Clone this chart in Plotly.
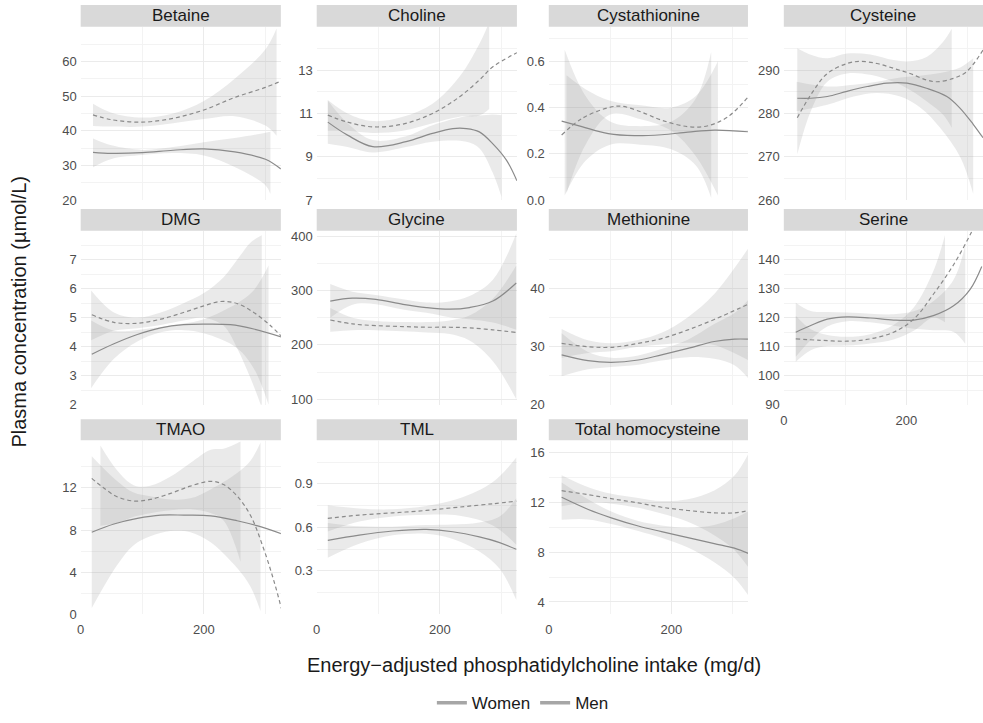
import plotly.graph_objects as go

# ---------------- data ----------------
panel_names = ["Betaine", "Choline", "Cystathionine", "Cysteine", "DMG", "Glycine",
               "Methionine", "Serine", "TMAO", "TML", "Total homocysteine"]

# Betaine
bet_w_x = [20, 50, 100, 150, 200, 250, 300, 325]
bet_w_y = [33.8, 33.5, 33.7, 34.4, 34.8, 33.9, 31.8, 29.0]
bet_w_bx = [20, 50, 100, 150, 200, 250, 300, 308]
bet_w_lo = [29.5, 31.9, 33.0, 33.6, 32.9, 29.6, 24.3, 21.8]
bet_w_hi = [37.8, 35.8, 34.5, 35.3, 36.7, 37.9, 39.4, 39.7]
bet_m_x = [20, 50, 100, 150, 200, 250, 300, 325]
bet_m_y = [44.6, 43.2, 42.5, 43.6, 46.0, 49.6, 52.5, 54.3]
bet_m_bx = [20, 50, 100, 150, 200, 250, 300, 318]
bet_m_lo = [41.4, 41.2, 41.2, 42.2, 43.4, 44.2, 41.5, 38.6]
bet_m_hi = [47.8, 45.2, 43.8, 45.0, 48.6, 55.0, 63.5, 69.5]

# Choline
cho_w_x = [18, 50, 91, 145, 188, 221, 243, 264, 286, 308, 325]
cho_w_y = [10.6, 10.0, 9.47, 9.7, 10.08, 10.3, 10.3, 10.15, 9.6, 8.85, 7.9]
cho_w_bx = [18, 50, 91, 145, 188, 243, 264, 286, 300]
cho_w_lo = [9.6, 9.45, 9.2, 9.45, 9.7, 9.7, 9.4, 8.25, 7.15]
cho_w_hi = [11.6, 10.55, 9.77, 9.95, 10.46, 10.87, 10.9, 10.95, 10.92]
cho_m_x = [18, 50, 91, 140, 188, 232, 264, 286, 325]
cho_m_y = [10.92, 10.6, 10.38, 10.51, 11.0, 11.77, 12.54, 13.15, 13.8]
cho_m_bx = [18, 50, 91, 140, 188, 232, 264, 280]
cho_m_lo = [10.2, 10.2, 10.1, 10.2, 10.55, 10.85, 10.9, 11.2]
cho_m_hi = [11.62, 11.0, 10.65, 10.85, 11.45, 12.7, 14.2, 15.2]

# Cystathionine
cyt_w_x = [21, 54, 97, 140, 184, 227, 270, 325]
cyt_w_y = [0.342, 0.318, 0.288, 0.279, 0.283, 0.294, 0.303, 0.296]
cyt_w_bx = [26, 60, 100, 150, 200, 240, 265]
cyt_w_lo = [0.02, 0.17, 0.24, 0.24, 0.22, 0.15, 0.01]
cyt_w_hi = [0.65, 0.45, 0.34, 0.32, 0.34, 0.44, 0.64]
cyt_m_x = [21, 54, 97, 119, 151, 184, 227, 260, 292, 325]
cyt_m_y = [0.282, 0.353, 0.40, 0.406, 0.381, 0.346, 0.318, 0.322, 0.36, 0.445]
cyt_m_bx = [29, 60, 100, 150, 200, 240, 276]
cyt_m_lo = [0.03, 0.24, 0.37, 0.35, 0.30, 0.19, 0.02]
cyt_m_hi = [0.54, 0.48, 0.43, 0.41, 0.40, 0.45, 0.60]

# Cysteine
cys_w_x = [22, 44, 71, 103, 136, 168, 201, 233, 266, 287, 309, 325]
cys_w_y = [283.5, 283.5, 283.9, 285.1, 286.2, 287.0, 287.0, 285.8, 283.9, 281.3, 277.5, 274.4]
cys_w_bx = [21, 71, 114, 152, 190, 223, 255, 288, 309]
cys_w_lo = [280.5, 282.0, 283.9, 284.7, 283.9, 281.3, 276.7, 269.9, 261.5]
cys_w_hi = [287.3, 286.2, 286.6, 287.3, 288.3, 288.7, 289.3, 290.6, 292.7]
cys_m_x = [22, 44, 71, 103, 125, 152, 179, 206, 233, 250, 277, 298, 325]
cys_m_y = [279.0, 284.3, 289.2, 291.5, 292.0, 291.5, 290.4, 289.2, 287.7, 287.3, 288.1, 289.6, 294.6]
cys_m_bx = [22, 44, 71, 103, 141, 179, 206, 233, 260, 274]
cys_m_lo = [270.6, 280.5, 287.3, 289.2, 288.9, 287.3, 285.4, 282.8, 279.7, 276.7]
cys_m_hi = [295.0, 293.5, 292.7, 293.8, 293.6, 292.3, 292.0, 293.0, 296.5, 299.5]

# DMG
dmg_w_x = [18, 54, 92, 130, 167, 200, 243, 281, 327]
dmg_w_y = [3.74, 4.10, 4.42, 4.65, 4.76, 4.78, 4.76, 4.61, 4.33]
dmg_w_bx = [17, 54, 92, 130, 167, 200, 254, 281, 305]
dmg_w_lo = [2.57, 3.58, 4.18, 4.5, 4.57, 4.46, 3.95, 3.25, 2.0]
dmg_w_hi = [4.9, 4.55, 4.58, 4.68, 4.8, 4.95, 5.5, 5.95, 6.8]
dmg_m_x = [18, 54, 92, 130, 167, 200, 227, 254, 281, 308, 327]
dmg_m_y = [5.10, 4.84, 4.81, 4.95, 5.18, 5.41, 5.56, 5.49, 5.18, 4.73, 4.33]
dmg_m_bx = [17, 54, 92, 130, 167, 200, 232, 254, 276, 294]
dmg_m_lo = [4.22, 4.55, 4.64, 4.75, 4.9, 5.0, 4.72, 3.95, 2.9, 1.9]
dmg_m_hi = [5.94, 5.18, 5.0, 5.18, 5.5, 5.85, 6.4, 7.0, 7.6, 7.85]

# Glycine
gly_x = [22, 58, 96, 140, 178, 216, 248, 286, 324]
gly_w_y = [280.7, 286.0, 283.7, 274.7, 268.7, 265.7, 268.7, 280.7, 313.9]
gly_w_lo = [250, 274, 275, 265, 259, 251, 247, 241, 228]
gly_w_hi = [312, 298, 292, 284, 278, 280, 290, 320, 405]
gly_m_y = [245.8, 238.6, 235.5, 233.7, 232.5, 232.5, 231.3, 227.7, 222.9]
gly_m_lo = [224, 227, 227, 225, 223, 220, 208, 170, 100]
gly_m_hi = [268, 250, 244, 242, 242, 245, 254, 285, 346]

# Methionine
met_w_x = [21, 64, 102, 146, 184, 227, 270, 303, 325]
met_w_y = [28.6, 27.6, 27.3, 27.7, 28.6, 29.7, 30.9, 31.3, 31.3]
met_w_lo = [24.9, 26.1, 26.5, 26.9, 27.6, 28.2, 27.9, 26.8, 24.6]
met_w_hi = [32.3, 29.1, 28.1, 28.5, 29.6, 31.2, 33.9, 35.8, 38.0]
met_m_x = [21, 64, 102, 146, 184, 227, 270, 325]
met_m_y = [30.57, 30.0, 29.9, 30.57, 31.4, 32.9, 34.7, 37.3]
met_m_lo = [28.07, 28.9, 29.2, 29.97, 30.4, 30.7, 30.3, 27.7]
met_m_hi = [33.07, 31.1, 30.6, 31.17, 32.4, 35.1, 39.1, 46.9]

# Serine
ser_w_x = [19.5, 44, 71, 103.5, 141, 179, 212, 244, 277, 304, 323]
ser_w_y = [115.0, 117.3, 119.5, 120.3, 119.9, 119.2, 119.2, 120.7, 124.1, 129.8, 137.7]
ser_w_bx = [19.5, 44, 71, 103.5, 141, 179, 212, 244, 277, 296]
ser_w_lo = [106.5, 112.3, 117.0, 118.8, 118.4, 117.2, 116.2, 115.7, 115.1, 111.0]
ser_w_hi = [125.2, 122.3, 122.0, 121.8, 121.4, 121.2, 122.2, 125.7, 133.1, 145.0]
ser_m_x = [19.5, 60, 103.5, 141, 179, 212, 244, 277, 306.6, 325]
ser_m_y = [112.7, 112.2, 111.9, 112.7, 115.0, 119.5, 128.1, 138.3, 149.7, 158.0]
ser_m_bx = [19.5, 44, 71, 103.5, 141, 179, 212, 244, 263]
ser_m_lo = [104.8, 108.8, 110.2, 110.4, 111.1, 112.5, 115.5, 120.1, 118.4]
ser_m_hi = [120.7, 116.0, 114.0, 113.4, 114.3, 117.5, 123.5, 136.1, 148.5]

# TMAO
tma_w_x = [18, 54, 92, 130, 168, 211, 254, 286, 327]
tma_w_y = [7.79, 8.57, 9.1, 9.41, 9.41, 9.35, 8.88, 8.41, 7.63]
tma_w_bx = [18, 59, 86, 113, 146, 178, 211, 254, 276, 292]
tma_w_lo = [0.6, 4.65, 6.55, 7.4, 7.9, 7.8, 6.85, 4.4, 2.6, 0.3]
tma_w_hi = [15.0, 12.65, 11.55, 11.2, 10.9, 11.0, 11.85, 13.4, 14.6, 16.3]
tma_m_x = [18, 37, 59, 86, 113, 146, 178, 211, 232, 254, 276, 297, 314, 327]
tma_m_y = [12.9, 12.0, 11.16, 10.75, 10.9, 11.47, 12.16, 12.62, 12.31, 11.22, 9.35, 6.23, 3.11, 0.31]
tma_m_bx = [32, 59, 86, 113, 146, 178, 211, 232, 259.5]
tma_m_lo = [8.4, 8.66, 9.25, 9.6, 9.87, 9.96, 9.62, 8.91, 5.0]
tma_m_hi = [16.0, 13.66, 12.25, 12.2, 13.07, 14.36, 15.62, 15.71, 16.4]

# TML
tml_w_x = [18, 69, 123.5, 178, 221, 264, 297, 324]
tml_w_y = [0.511, 0.547, 0.575, 0.586, 0.570, 0.534, 0.495, 0.449]
tml_w_lo = [0.391, 0.487, 0.545, 0.556, 0.52, 0.434, 0.315, 0.10]
tml_w_hi = [0.631, 0.607, 0.605, 0.616, 0.62, 0.634, 0.675, 0.80]
tml_m_x = [18, 69, 123.5, 178, 232, 286, 324]
tml_m_y = [0.662, 0.685, 0.70, 0.717, 0.74, 0.763, 0.781]
tml_m_lo = [0.572, 0.64, 0.675, 0.687, 0.68, 0.613, 0.481]
tml_m_hi = [0.752, 0.73, 0.725, 0.747, 0.80, 0.913, 1.081]

# Total homocysteine
thc_x = [21, 64.5, 102, 146, 184, 227, 270, 303, 326]
thc_w_y = [12.42, 11.44, 10.77, 10.11, 9.66, 9.18, 8.70, 8.33, 7.9]
thc_w_lo = [10.62, 10.64, 10.27, 9.71, 9.16, 8.38, 7.2, 5.93, 4.5]
thc_w_hi = [13.6, 12.24, 11.27, 10.51, 10.16, 9.98, 10.2, 10.73, 11.3]
thc_m_y = [12.95, 12.63, 12.31, 11.97, 11.62, 11.36, 11.17, 11.17, 11.36]
thc_m_lo = [11.7, 12.03, 11.91, 11.57, 11.12, 10.46, 9.37, 8.17, 6.76]
thc_m_hi = [14.2, 13.23, 12.71, 12.37, 12.12, 12.26, 12.97, 14.17, 15.96]

# y axis limits / ticks per panel
y_limits = [[20, 70], [7, 15], [0, 0.75], [260, 300], [2, 8], [90, 410],
            [20, 50], [90, 150], [0, 16.5], [0, 1.2], [3, 17]]
y_ticks = [[20, 30, 40, 50, 60], [7, 9, 11, 13], [0, 0.2, 0.4, 0.6], [260, 270, 280, 290],
           [2, 3, 4, 5, 6, 7], [100, 200, 300, 400], [20, 30, 40],
           [90, 100, 110, 120, 130, 140], [0, 4, 8, 12], [0.3, 0.6, 0.9], [4, 8, 12, 16]]
y_ticktext = [["20", "30", "40", "50", "60"], ["7", "9", "11", "13"],
              ["0.0", "0.2", "0.4", "0.6"], ["260", "270", "280", "290"],
              ["2", "3", "4", "5", "6", "7"], ["100", "200", "300", "400"],
              ["20", "30", "40"], ["90", "100", "110", "120", "130", "140"],
              ["0", "4", "8", "12"], ["0.3", "0.6", "0.9"], ["4", "8", "12", "16"]]
y_minor = [[25, 35, 45, 55, 65], [8, 10, 12, 14], [0.1, 0.3, 0.5, 0.7], [265, 275, 285, 295],
           [2.5, 3.5, 4.5, 5.5, 6.5, 7.5], [150, 250, 350], [25, 35, 45],
           [95, 105, 115, 125, 135, 145], [2, 6, 10, 14], [0, 0.15, 0.45, 0.75, 1.05],
           [6, 10, 14]]
x_limits = [0, 325]
x_ticks = [0, 200]
x_minor = [100, 300]
sex_labels = ["Women", "Men"]

# series table built from the arrays above: (women line, women band, men line, men band)
series = [
    ((bet_w_x, bet_w_y), (bet_w_bx, bet_w_lo, bet_w_hi), (bet_m_x, bet_m_y), (bet_m_bx, bet_m_lo, bet_m_hi)),
    ((cho_w_x, cho_w_y), (cho_w_bx, cho_w_lo, cho_w_hi), (cho_m_x, cho_m_y), (cho_m_bx, cho_m_lo, cho_m_hi)),
    ((cyt_w_x, cyt_w_y), (cyt_w_bx, cyt_w_lo, cyt_w_hi), (cyt_m_x, cyt_m_y), (cyt_m_bx, cyt_m_lo, cyt_m_hi)),
    ((cys_w_x, cys_w_y), (cys_w_bx, cys_w_lo, cys_w_hi), (cys_m_x, cys_m_y), (cys_m_bx, cys_m_lo, cys_m_hi)),
    ((dmg_w_x, dmg_w_y), (dmg_w_bx, dmg_w_lo, dmg_w_hi), (dmg_m_x, dmg_m_y), (dmg_m_bx, dmg_m_lo, dmg_m_hi)),
    ((gly_x, gly_w_y), (gly_x, gly_w_lo, gly_w_hi), (gly_x, gly_m_y), (gly_x, gly_m_lo, gly_m_hi)),
    ((met_w_x, met_w_y), (met_w_x, met_w_lo, met_w_hi), (met_m_x, met_m_y), (met_m_x, met_m_lo, met_m_hi)),
    ((ser_w_x, ser_w_y), (ser_w_bx, ser_w_lo, ser_w_hi), (ser_m_x, ser_m_y), (ser_m_bx, ser_m_lo, ser_m_hi)),
    ((tma_w_x, tma_w_y), (tma_w_bx, tma_w_lo, tma_w_hi), (tma_m_x, tma_m_y), (tma_m_bx, tma_m_lo, tma_m_hi)),
    ((tml_w_x, tml_w_y), (tml_w_x, tml_w_lo, tml_w_hi), (tml_m_x, tml_m_y), (tml_m_x, tml_m_lo, tml_m_hi)),
    ((thc_x, thc_w_y), (thc_x, thc_w_lo, thc_w_hi), (thc_x, thc_m_y), (thc_x, thc_m_lo, thc_m_hi)),
]

# ---------------- layout geometry (pixels) ----------------
W, H = 983, 723
COL_PX = [(77, 278), (314, 515), (547, 747), (783, 983)]
ROW_PX = [(25, 201), (232, 408.3), (444.5, 621)]
STRIP_PX = [(3, 25), (210, 232), (423, 444.5)]
BAND_FILL = "rgba(150,150,150,0.2)"
LINE_COL = "#8a8a8a"
FONT = "Liberation Sans, Arial, Helvetica, sans-serif"
TICK_FONT = dict(family=FONT, size=13, color="#4d4d4d")
GRID = "#ebebeb"
MINOR_GRID = "#f3f3f3"

fig = go.Figure()
layout = dict(width=W, height=H, margin=dict(l=0, r=0, t=0, b=0),
              paper_bgcolor="white", plot_bgcolor="white",
              font=dict(family=FONT, color="#1a1a1a"),
              showlegend=True, shapes=[], annotations=[])

bottom_panel = {0: 8, 1: 9, 2: 10, 3: 7}

for i, name in enumerate(panel_names):
    r, c = divmod(i, 4)
    n = i + 1
    xref = "x" if n == 1 else f"x{n}"
    yref = "y" if n == 1 else f"y{n}"
    xkey = "xaxis" if n == 1 else f"xaxis{n}"
    ykey = "yaxis" if n == 1 else f"yaxis{n}"
    l, rr = COL_PX[c]
    t, b = ROW_PX[r]
    layout[xkey] = dict(domain=[l / W, rr / W], range=x_limits, anchor=yref,
                        tickvals=x_ticks, ticktext=[str(v) for v in x_ticks],
                        showticklabels=(bottom_panel[c] == i), ticks="",
                        ticklabelstandoff=6,
                        showgrid=True, gridcolor=GRID, gridwidth=1,
                        zeroline=False, showline=False, tickfont=TICK_FONT,
                        minor=dict(tickvals=x_minor, showgrid=True, gridcolor=MINOR_GRID, gridwidth=0.6),
                        fixedrange=True)
    layout[ykey] = dict(domain=[1 - b / H, 1 - t / H], range=y_limits[i], anchor=xref,
                        tickvals=y_ticks[i], ticktext=y_ticktext[i], ticks="",
                        ticklabelstandoff=3,
                        showgrid=True, gridcolor=GRID, gridwidth=1,
                        zeroline=False, showline=False, tickfont=TICK_FONT,
                        minor=dict(tickvals=y_minor[i], showgrid=True, gridcolor=MINOR_GRID, gridwidth=0.6),
                        fixedrange=True)
    # strip
    st, sb = STRIP_PX[r]
    layout["shapes"].append(dict(type="rect", xref="paper", yref="paper",
                                 x0=l / W, x1=rr / W, y0=1 - sb / H, y1=1 - st / H,
                                 fillcolor="#d9d9d9", line=dict(width=0), layer="below"))
    layout["annotations"].append(dict(text=name, xref="paper", yref="paper",
                                      x=(l + rr) / 2 / W, y=1 - (st + sb) / 2 / H,
                                      xanchor="center", yanchor="middle", showarrow=False,
                                      font=dict(family=FONT, size=17, color="#1a1a1a")))

    wline, wband, mline, mband = series[i]
    for bx, lo, hi in (wband, mband):
        fig.add_trace(go.Scatter(x=bx, y=lo, mode="lines", line=dict(width=0, shape="spline"),
                                 xaxis=xref, yaxis=yref, showlegend=False, hoverinfo="skip"))
        fig.add_trace(go.Scatter(x=bx, y=hi, mode="lines", line=dict(width=0, shape="spline"),
                                 fill="tonexty", fillcolor=BAND_FILL,
                                 xaxis=xref, yaxis=yref, showlegend=False, hoverinfo="skip"))
    fig.add_trace(go.Scatter(x=wline[0], y=wline[1], mode="lines",
                             line=dict(color=LINE_COL, width=1.2, shape="spline"),
                             xaxis=xref, yaxis=yref, showlegend=False, name="Women"))
    fig.add_trace(go.Scatter(x=mline[0], y=mline[1], mode="lines",
                             line=dict(color=LINE_COL, width=1.2, shape="spline", dash="4px,3px"),
                             xaxis=xref, yaxis=yref, showlegend=False, name="Men"))

# legend entries
for lab in sex_labels:
    fig.add_trace(go.Scatter(x=[None], y=[None], mode="lines", name=lab,
                             line=dict(color="#a6a6a6", width=3.5),
                             xaxis="x", yaxis="y", showlegend=True))

layout["legend"] = dict(orientation="h", x=0.53, xanchor="center", y=1 - 711 / H, yanchor="middle",
                        font=dict(family=FONT, size=17, color="#1a1a1a"), traceorder="normal",
                        bgcolor="rgba(0,0,0,0)", itemwidth=30, tracegroupgap=0)

# axis titles
layout["annotations"].append(dict(text="Energy\u2212adjusted phosphatidylcholine intake (mg/d)",
                                  xref="paper", yref="paper", x=532 / W, y=1 - 672 / H,
                                  xanchor="center", yanchor="middle", showarrow=False,
                                  font=dict(family=FONT, size=20, color="#1a1a1a")))
layout["annotations"].append(dict(text="Plasma concentration (\u00b5mol/L)",
                                  xref="paper", yref="paper", x=15 / W, y=1 - 314 / H,
                                  xanchor="center", yanchor="middle", showarrow=False, textangle=-90,
                                  font=dict(family=FONT, size=20, color="#1a1a1a")))

fig.update_layout(**layout)
fig.write_html("out.html")
